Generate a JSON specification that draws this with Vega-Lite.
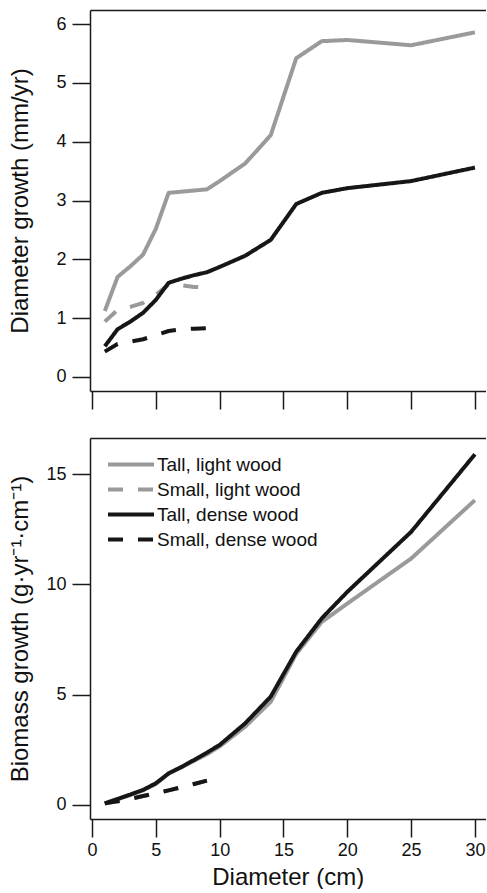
{
  "$schema": "https://vega.github.io/schema/vega-lite/v6.json",
  "padding": {"left": 8, "top": 10, "right": 0, "bottom": 0},
  "config": {
    "font": "Liberation Sans",
    "view": {"stroke": null},
    "concat": {"spacing": 28},
    "axis": {
      "grid": false,
      "domainColor": "#1a1a1a", "domainWidth": 1.5,
      "tickColor": "#1a1a1a", "tickWidth": 1.5, "tickSize": 18,
      "labelFont": "Liberation Sans", "labelFontSize": 18, "labelColor": "#111111",
      "titleFont": "Liberation Sans", "titleFontSize": 24, "titleFontWeight": "normal", "titleColor": "#111111"
    }
  },
  "data": {"values": [
    {"s": "Tall, light wood", "d": 1, "dg": 1.12, "bg": 0.06},
    {"s": "Tall, light wood", "d": 2, "dg": 1.70, "bg": 0.25},
    {"s": "Tall, light wood", "d": 3, "dg": 1.88, "bg": 0.45},
    {"s": "Tall, light wood", "d": 4, "dg": 2.08, "bg": 0.66},
    {"s": "Tall, light wood", "d": 5, "dg": 2.52, "bg": 0.95},
    {"s": "Tall, light wood", "d": 6, "dg": 3.13, "bg": 1.42},
    {"s": "Tall, light wood", "d": 7, "dg": 3.15, "bg": 1.70},
    {"s": "Tall, light wood", "d": 8, "dg": 3.17, "bg": 2.00},
    {"s": "Tall, light wood", "d": 9, "dg": 3.19, "bg": 2.30},
    {"s": "Tall, light wood", "d": 10, "dg": 3.33, "bg": 2.65},
    {"s": "Tall, light wood", "d": 12, "dg": 3.63, "bg": 3.55},
    {"s": "Tall, light wood", "d": 14, "dg": 4.11, "bg": 4.68},
    {"s": "Tall, light wood", "d": 16, "dg": 5.42, "bg": 6.85},
    {"s": "Tall, light wood", "d": 18, "dg": 5.71, "bg": 8.30},
    {"s": "Tall, light wood", "d": 20, "dg": 5.73, "bg": 9.13},
    {"s": "Tall, light wood", "d": 25, "dg": 5.64, "bg": 11.17},
    {"s": "Tall, light wood", "d": 30, "dg": 5.86, "bg": 13.82},
    {"s": "Small, light wood", "d": 1, "dg": 0.94, "bg": 0.07},
    {"s": "Small, light wood", "d": 2, "dg": 1.14, "bg": 0.16},
    {"s": "Small, light wood", "d": 3, "dg": 1.19, "bg": 0.27},
    {"s": "Small, light wood", "d": 4, "dg": 1.26, "bg": 0.40},
    {"s": "Small, light wood", "d": 5, "dg": 1.40, "bg": 0.53},
    {"s": "Small, light wood", "d": 6, "dg": 1.57, "bg": 0.66},
    {"s": "Small, light wood", "d": 7, "dg": 1.56, "bg": 0.80},
    {"s": "Small, light wood", "d": 8, "dg": 1.53, "bg": 0.95},
    {"s": "Small, light wood", "d": 9, "dg": 1.52, "bg": 1.10},
    {"s": "Tall, dense wood", "d": 1, "dg": 0.52, "bg": 0.07},
    {"s": "Tall, dense wood", "d": 2, "dg": 0.81, "bg": 0.27},
    {"s": "Tall, dense wood", "d": 3, "dg": 0.94, "bg": 0.47},
    {"s": "Tall, dense wood", "d": 4, "dg": 1.09, "bg": 0.68},
    {"s": "Tall, dense wood", "d": 5, "dg": 1.31, "bg": 0.98},
    {"s": "Tall, dense wood", "d": 6, "dg": 1.60, "bg": 1.43},
    {"s": "Tall, dense wood", "d": 7, "dg": 1.67, "bg": 1.72},
    {"s": "Tall, dense wood", "d": 8, "dg": 1.73, "bg": 2.04},
    {"s": "Tall, dense wood", "d": 9, "dg": 1.78, "bg": 2.37},
    {"s": "Tall, dense wood", "d": 10, "dg": 1.87, "bg": 2.72},
    {"s": "Tall, dense wood", "d": 12, "dg": 2.06, "bg": 3.70},
    {"s": "Tall, dense wood", "d": 14, "dg": 2.33, "bg": 4.91},
    {"s": "Tall, dense wood", "d": 16, "dg": 2.94, "bg": 6.95},
    {"s": "Tall, dense wood", "d": 18, "dg": 3.13, "bg": 8.46},
    {"s": "Tall, dense wood", "d": 20, "dg": 3.21, "bg": 9.66},
    {"s": "Tall, dense wood", "d": 25, "dg": 3.33, "bg": 12.38},
    {"s": "Tall, dense wood", "d": 30, "dg": 3.56, "bg": 15.90},
    {"s": "Small, dense wood", "d": 1, "dg": 0.43, "bg": 0.07},
    {"s": "Small, dense wood", "d": 2, "dg": 0.56, "bg": 0.16},
    {"s": "Small, dense wood", "d": 3, "dg": 0.60, "bg": 0.27},
    {"s": "Small, dense wood", "d": 4, "dg": 0.64, "bg": 0.40},
    {"s": "Small, dense wood", "d": 5, "dg": 0.71, "bg": 0.53},
    {"s": "Small, dense wood", "d": 6, "dg": 0.78, "bg": 0.66},
    {"s": "Small, dense wood", "d": 7, "dg": 0.81, "bg": 0.80},
    {"s": "Small, dense wood", "d": 8, "dg": 0.82, "bg": 0.95},
    {"s": "Small, dense wood", "d": 9, "dg": 0.83, "bg": 1.10}
  ]},
  "resolve": {
    "scale": {"color": "independent", "strokeDash": "independent"},
    "legend": {"color": "independent", "strokeDash": "independent"}
  },
  "vconcat": [
    {
      "width": 395.5, "height": 381,
      "encoding": {
        "y": {"field": "dg", "type": "quantitative",
          "scale": {"domain": [-0.24, 6.24], "nice": false, "zero": false},
          "axis": {"values": [0, 1, 2, 3, 4, 5, 6], "title": "Diameter growth (mm/yr)", "labelPadding": 6, "titlePadding": 0, "minExtent": 58, "maxExtent": 58}}
      },
      "layer": [
        {
          "mark": {"type": "line", "strokeWidth": 4, "strokeJoin": "round"},
          "encoding": {
            "x": {"field": "d", "type": "quantitative",
              "scale": {"domain": [-0.16, 30.83], "nice": false, "zero": false},
              "axis": {"values": [0, 5, 10, 15, 20, 25, 30], "labels": false, "title": null}},
            "color": {"field": "s", "type": "nominal", "legend": null,
              "scale": {"domain": ["Tall, light wood", "Small, light wood", "Tall, dense wood", "Small, dense wood"], "range": ["#9a9a9a", "#9a9a9a", "#161616", "#161616"]}},
            "strokeDash": {"field": "s", "type": "nominal", "legend": null,
              "scale": {"domain": ["Tall, light wood", "Small, light wood", "Tall, dense wood", "Small, dense wood"], "range": [[1, 0], [15, 15], [1, 0], [15, 15]]}}
          }
        },
        {
          "mark": {"type": "line", "opacity": 0},
          "encoding": {
            "x": {"field": "d", "type": "quantitative",
              "scale": {"domain": [-0.16, 30.83], "nice": false, "zero": false},
              "axis": {"orient": "top", "ticks": false, "labels": false, "title": null}},
            "detail": {"field": "s"}
          }
        }
      ],
      "resolve": {"axis": {"x": "independent"}}
    },
    {
      "width": 395.5, "height": 381,
      "encoding": {
        "y": {"field": "bg", "type": "quantitative",
          "scale": {"domain": [-0.64, 16.64], "nice": false, "zero": false},
          "axis": {"values": [0, 5, 10, 15], "title": "Biomass growth (g·yr⁻¹·cm⁻¹)", "labelPadding": 6, "titlePadding": 0, "minExtent": 58, "maxExtent": 58}}
      },
      "layer": [
        {
          "mark": {"type": "line", "strokeWidth": 4, "strokeJoin": "round"},
          "encoding": {
            "x": {"field": "d", "type": "quantitative",
              "scale": {"domain": [-0.16, 30.83], "nice": false, "zero": false},
              "axis": {"values": [0, 5, 10, 15, 20, 25, 30], "title": "Diameter (cm)", "labelPadding": 4, "titlePadding": 6}},
            "color": {"field": "s", "type": "nominal",
              "scale": {"domain": ["Tall, light wood", "Small, light wood", "Tall, dense wood", "Small, dense wood"], "range": ["#9a9a9a", "#9a9a9a", "#161616", "#161616"]},
              "legend": {"orient": "none", "legendX": 27.5, "legendY": 13, "padding": 0, "title": null, "symbolType": "M-2,0H2", "symbolSize": 529, "symbolStrokeWidth": 4, "labelFontSize": 19, "labelFont": "Liberation Sans", "labelColor": "#111111", "labelOffset": 12.5, "labelLimit": 400, "rowPadding": 1}},
            "strokeDash": {"field": "s", "type": "nominal",
              "scale": {"domain": ["Tall, light wood", "Small, light wood", "Tall, dense wood", "Small, dense wood"], "range": [[1, 0], [15, 15], [1, 0], [15, 15]]},
              "legend": {"orient": "none", "legendX": 27.5, "legendY": 13, "padding": 0, "title": null, "symbolType": "M-2,0H2", "symbolSize": 529, "symbolStrokeWidth": 4, "labelFontSize": 19, "labelFont": "Liberation Sans", "labelColor": "#111111", "labelOffset": 12.5, "labelLimit": 400, "rowPadding": 1}}
          }
        },
        {
          "mark": {"type": "line", "opacity": 0},
          "encoding": {
            "x": {"field": "d", "type": "quantitative",
              "scale": {"domain": [-0.16, 30.83], "nice": false, "zero": false},
              "axis": {"orient": "top", "ticks": false, "labels": false, "title": null}},
            "detail": {"field": "s"}
          }
        }
      ],
      "resolve": {"axis": {"x": "independent"}}
    }
  ]
}
